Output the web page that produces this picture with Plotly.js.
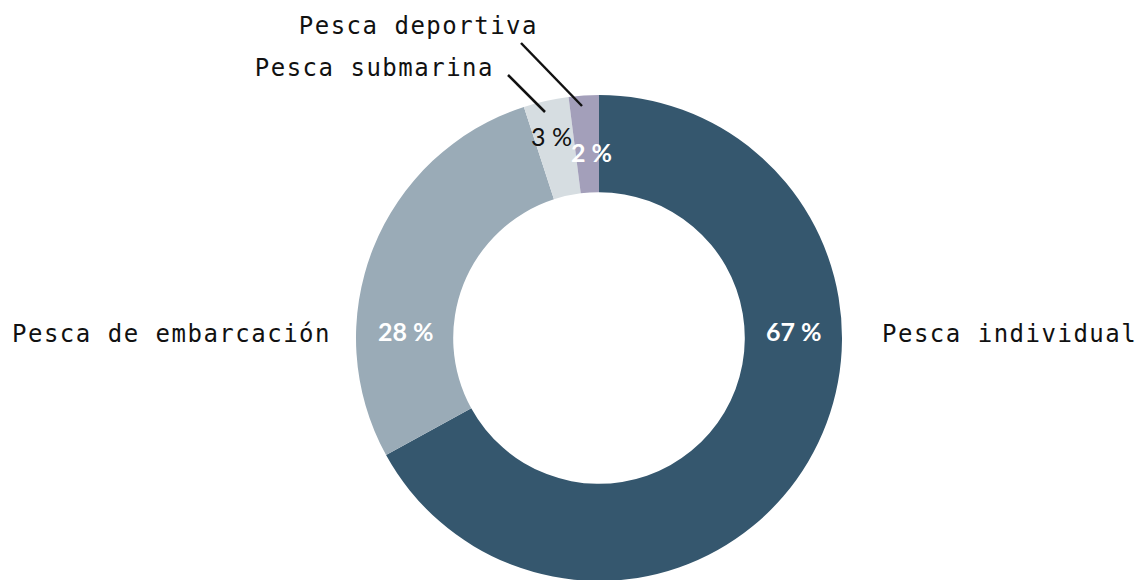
<!DOCTYPE html>
<html>
<head>
<meta charset="utf-8">
<script src="https://cdn.plot.ly/plotly-3.0.1.min.js"></script>
<style>
html,body{margin:0;padding:0;overflow:hidden;background:#fff;}
#chart{width:1138px;height:676px;}
.lbl .annotation-text{letter-spacing:1.5px;}
</style>
</head>
<body>
<div id="chart"></div>
<script>
const categories = ["Pesca individual", "Pesca de embarcación", "Pesca submarina", "Pesca deportiva"];
const values = [67, 28, 3, 2];
const colors = ["#35576e", "#9aabb7", "#d6dde1", "#a39fba"];
const pctColors = ["#ffffff", "#ffffff", "#111111", "#ffffff"];
const pctWeights = [700, 700, 400, 700];

const W = 1138, H = 676;
const px = x => x / W;
const py = y => 1 - y / H;

// label layout (pixel centres of text)
const labelPos = [
  {x: 1009, y: 334}, {x: 171, y: 334}, {x: 374, y: 68}, {x: 418, y: 26}
];
const pctPos = [
  {x: 794, y: 331}, {x: 406, y: 331}, {x: 551, y: 136}, {x: 591, y: 152}
];
const leaders = [null, null, [508, 75, 545, 112], [521, 43, 582, 106]];

const annotations = [];
categories.forEach((c, i) => {
  annotations.push({
    xref: "paper", yref: "paper", x: px(labelPos[i].x), y: py(labelPos[i].y),
    xanchor: "center", yanchor: "middle", showarrow: false,
    text: c, font: {family: "DejaVu Sans Mono", size: 24, color: "#111"}
  });
  annotations.push({
    xref: "paper", yref: "paper", x: px(pctPos[i].x), y: py(pctPos[i].y),
    xanchor: "center", yanchor: "middle", showarrow: false,
    text: values[i] + " %",
    font: {family: "Lato", size: 25, color: pctColors[i], weight: pctWeights[i]}
  });
});
const shapes = leaders.filter(l => l).map(l => ({
  type: "line", xref: "paper", yref: "paper",
  x0: px(l[0]), y0: py(l[1]), x1: px(l[2]), y1: py(l[3]),
  line: {color: "#111", width: 2.5}
}));

Plotly.newPlot("chart", [{
  type: "pie",
  labels: categories,
  values: values,
  marker: {colors: colors, line: {width: 0}},
  hole: 0.6,
  sort: false,
  direction: "clockwise",
  rotation: 0,
  textinfo: "none",
  hoverinfo: "none",
  domain: {x: [px(356), px(842)], y: [0, 1]}
}], {
  width: W, height: H,
  margin: {l: 0, r: 0, t: 0, b: 0},
  showlegend: false,
  paper_bgcolor: "#fff",
  annotations: annotations,
  shapes: shapes
}, {displayModeBar: false, staticPlot: true}).then(() => {
  document.querySelectorAll(".annotation").forEach((g, idx) => {
    if (idx % 2 === 0) g.classList.add("lbl");
  });
});
</script>
</body>
</html>
